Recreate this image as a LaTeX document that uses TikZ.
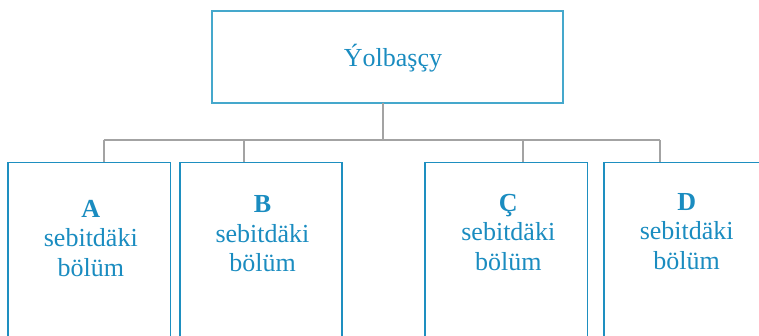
\documentclass[tikz,border=0pt]{standalone}
\usepackage{fontspec}
\setmainfont{Liberation Serif}
\definecolor{txtblue}{HTML}{1A8CC0}
\definecolor{topblue}{HTML}{45A8CC}
\definecolor{boxblue}{HTML}{1E8FC0}
\definecolor{lgray}{HTML}{A3A3A3}
\tikzset{
  topbox/.style={draw=topblue, line width=1.8pt, minimum width=351pt, minimum height=91.4pt, inner sep=0pt},
  deptbox/.style={draw=boxblue, line width=1.6pt, anchor=north west, inner sep=0pt, minimum height=200pt},
  conn/.style={draw=lgray, line width=1.8pt},
  lbl/.style={text=txtblue, font=\fontsize{26}{29.5}\selectfont, align=center, inner sep=0pt}
}
\begin{document}
\begin{tikzpicture}[x=1pt,y=-1pt]
\useasboundingbox (0,0) rectangle (759,335);
\clip (0,0) rectangle (759,335);
\node[topbox] (top) at (387.8,57) {};
\node[lbl, anchor=base] (toplbl) at (393,66.7) {Ýolbaşçy};
\node[deptbox, minimum width=162.4pt] (b1) at (7.3,161.7) {};
\node[deptbox, minimum width=162pt] (b2) at (179.3,161.7) {};
\node[deptbox, minimum width=162.4pt] (b3) at (424.3,161.7) {};
\node[deptbox, minimum width=162pt] (b4) at (603.3,161.7) {};
\node[lbl, anchor=north] (l1) at (90.8,199.8) {\textbf{A}\\sebitdäki\\bölüm};
\node[lbl, anchor=north] (l2) at (262.5,195.5) {\textbf{B}\\sebitdäki\\bölüm};
\node[lbl, anchor=north] (l3) at (508.3,193.8) {\textbf{Ç}\\sebitdäki\\bölüm};
\node[lbl, anchor=north] (l4) at (686.7,192.8) {\textbf{D}\\sebitdäki\\bölüm};
\coordinate (t) at (382.7,102.7);
\coordinate (bus) at (382.7,140);
\coordinate (d1) at (103.7,140);
\coordinate (d2) at (243.7,140);
\coordinate (d3) at (522.7,140);
\coordinate (d4) at (660.3,140);
\draw[conn] (t) -- (bus);
\draw[conn] (d1) -- (d4);
\draw[conn] (d1) -- (d1 |- b1.north);
\draw[conn] (d2) -- (d2 |- b2.north);
\draw[conn] (d3) -- (d3 |- b3.north);
\draw[conn] (d4) -- (d4 |- b4.north);
\end{tikzpicture}
\end{document}
